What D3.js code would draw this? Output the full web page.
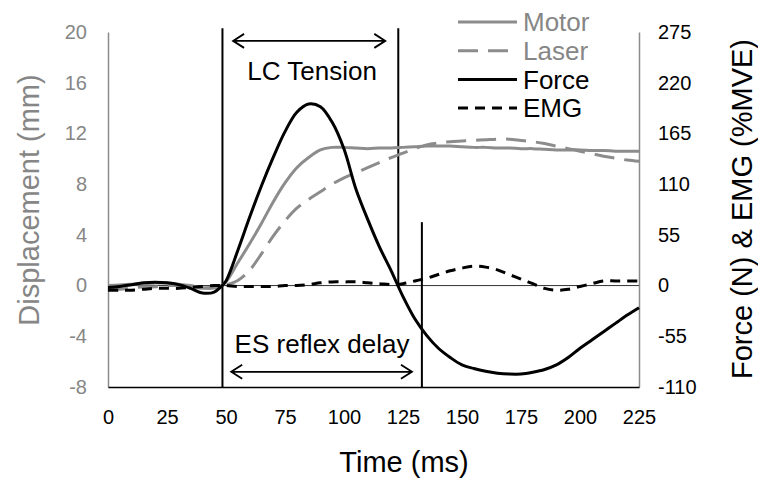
<!DOCTYPE html>
<html>
<head>
<meta charset="utf-8">
<script src="https://cdn.jsdelivr.net/npm/d3@7"></script>
<style>
    body { margin: 0; background: #fff; }
    svg text { font-family: "Liberation Sans", Arial, sans-serif; }
</style>
</head>
<body>
<div id="chart"></div>
<script>
// 时间 (ms)
var time = [0, 5, 10, 15, 20, 25, 30, 35, 40, 45, 48, 50, 55, 60, 65, 70, 75, 80, 85, 90, 95, 100,
    105, 110, 115, 120, 125, 130, 135, 140, 145, 150, 155, 160, 165, 170, 175, 180, 185, 190, 195,
    200, 205, 210, 215, 220, 225];
// 位移 (mm) —— 左轴
var motor = [0, 0.05, 0.1, 0.15, 0.2, 0.2, 0.1, 0, -0.2, -0.2, 0, 0.3, 1.8, 3.3, 4.9, 6.6, 8.1, 9.3, 10.1, 10.7, 10.9, 10.9,
    10.85, 10.8, 10.85, 10.85, 10.9, 10.95, 11.0, 11.0, 11.0, 10.95, 10.9, 10.9, 10.85, 10.85, 10.8, 10.8, 10.75, 10.7, 10.7,
    10.7, 10.65, 10.65, 10.6, 10.6, 10.6];
var laser = [-0.3, -0.3, -0.2, -0.1, -0.1, 0, 0, -0.1, -0.2, -0.1, 0, 0.05, 0.4, 1.2, 2.5, 3.9, 5.1, 6.1, 6.8, 7.4, 8.0, 8.5,
    8.9, 9.3, 9.7, 10.1, 10.45, 10.8, 11.1, 11.25, 11.35, 11.4, 11.45, 11.5, 11.55, 11.55, 11.45, 11.35, 11.2, 11.0, 10.8,
    10.6, 10.4, 10.2, 10.05, 9.9, 9.8];
// 力 (N) 与 EMG (%MVE) —— 右轴
var force = [-2, -1, 1, 3, 3.5, 3, 1, -3, -8, -7, -1, 5, 38, 74, 108, 139, 167, 188, 197, 194, 177, 148,
    105, 72, 42, 16, -12, -36, -54, -68, -78, -86, -90, -93, -95, -96, -96, -94, -91, -86, -78,
    -68, -59, -50, -41, -32, -24];
var emg = [-5, -5, -5, -4, -3, -3, -3, -2, -1, 0, 0, 0, -1, -1, -1, -1, 0, 0, 1, 3, 4, 4,
    4, 3, 2, 1, 2, 5, 8, 12, 16, 19, 21, 20, 17, 12, 7, 2, -3, -5, -4,
    -1, 2, 5, 5, 5, 5];

// 刻度
var timeTicks = [0, 25, 50, 75, 100, 125, 150, 175, 200, 225];
var leftTicks = [-8, -4, 0, 4, 8, 12, 16, 20];
var rightTicks = [-110, -55, 0, 55, 110, 165, 220, 275];

// 标注 (ms)
var tensionStart = 48.5, tensionEnd = 123, reflexEnd = 133;

var W = 758, H = 485;
var padding = {left: 108, right: 119, top: 32, bottom: 98};
var gray = '#8c8c8c', grayText = '#868686';

var svg = d3.select('#chart').append('svg')
    .attr('width', W)
    .attr('height', H);

var x = d3.scaleLinear().domain([0, 225]).range([padding.left, W - padding.right]);
var yL = d3.scaleLinear().domain([-8, 20]).range([H - padding.bottom, padding.top]);
var yR = d3.scaleLinear().domain([-110, 275]).range([H - padding.bottom, padding.top]);

// 普通连字符负号
var fmt = function (d) { return String(d); };

//坐标轴
var gL = svg.append('g')
    .attr('transform', 'translate(' + padding.left + ',0)')
    .call(d3.axisLeft(yL).tickValues(leftTicks).tickFormat(fmt).tickSize(0).tickPadding(21));
gL.select('.domain').attr('stroke', gray).attr('stroke-width', 1.5);
gL.selectAll('text').attr('fill', grayText).style('font-size', '20px');

var gR = svg.append('g')
    .attr('transform', 'translate(' + (W - padding.right) + ',0)')
    .call(d3.axisRight(yR).tickValues(rightTicks).tickFormat(fmt).tickSize(0).tickPadding(19));
gR.select('.domain').attr('stroke', gray).attr('stroke-width', 1.5);
gR.selectAll('text').attr('fill', '#000').style('font-size', '20px');

var gB = svg.append('g')
    .attr('transform', 'translate(0,' + (H - padding.bottom) + ')')
    .call(d3.axisBottom(x).tickValues(timeTicks).tickFormat(fmt).tickSize(0).tickPadding(23));
gB.select('.domain').attr('stroke', '#000').attr('stroke-width', 1.5);
gB.selectAll('text').attr('fill', '#000').style('font-size', '20px');

// 零线
svg.append('line')
    .attr('x1', x(0)).attr('x2', x(225))
    .attr('y1', yL(0)).attr('y2', yL(0))
    .attr('stroke', '#333').attr('stroke-width', 1);

// 轴标题
svg.append('text')
    .attr('transform', 'translate(39,' + 200 + ') rotate(-90)')
    .attr('text-anchor', 'middle')
    .attr('fill', grayText)
    .style('font-size', '29px')
    .text('Displacement (mm)');

svg.append('text')
    .attr('transform', 'translate(752,' + 209 + ') rotate(-90)')
    .attr('text-anchor', 'middle')
    .attr('fill', '#000')
    .style('font-size', '29px')
    .text('Force (N) & EMG (%MVE)');

svg.append('text')
    .attr('x', 404).attr('y', 472)
    .attr('text-anchor', 'middle')
    .attr('fill', '#000')
    .style('font-size', '29px')
    .text('Time (ms)');

// 标注竖线
function vline(t, v0, v1) {
    svg.append('line')
        .attr('x1', x(t)).attr('x2', x(t))
        .attr('y1', yL(v0)).attr('y2', yL(v1))
        .attr('stroke', '#000').attr('stroke-width', 2);
}
vline(tensionStart, 20.3, -8);
vline(tensionEnd, 20.3, -0.1);
vline(reflexEnd, 5.0, -8);

// 双向箭头
function arrow(t0, t1, v) {
    var x0 = x(t0), x1 = x(t1), yy = yL(v), hl = 11, hw = 7;
    svg.append('path')
        .attr('d', 'M' + x0 + ',' + yy + 'H' + x1 +
            'M' + (x0 + hl) + ',' + (yy - hw) + 'L' + x0 + ',' + yy + 'L' + (x0 + hl) + ',' + (yy + hw) +
            'M' + (x1 - hl) + ',' + (yy - hw) + 'L' + x1 + ',' + yy + 'L' + (x1 - hl) + ',' + (yy + hw))
        .attr('fill', 'none')
        .attr('stroke', '#000')
        .attr('stroke-width', 1.8);
}
arrow(53, 117.5, 19.3);
arrow(52.2, 128.8, -6.8);

svg.append('text')
    .attr('x', x(86.5)).attr('y', yL(16.2))
    .attr('text-anchor', 'middle')
    .style('font-size', '26px')
    .text('LC Tension');

svg.append('text')
    .attr('x', x(90.7)).attr('y', yL(-5.3))
    .attr('text-anchor', 'middle')
    .style('font-size', '26px')
    .text('ES reflex delay');

// 曲线
var series = [
    {name: 'Motor', values: motor, scale: yL, color: gray, dash: null, text: grayText},
    {name: 'Laser', values: laser, scale: yL, color: gray, dash: '20,10', text: grayText},
    {name: 'Force', values: force, scale: yR, color: '#000', dash: null, text: '#000'},
    {name: 'EMG', values: emg, scale: yR, color: '#000', dash: '10,7', text: '#000'}
];

series.forEach(function (s) {
    var line = d3.line()
        .x(function (d, i) { return x(time[i]); })
        .y(function (d) { return s.scale(d); })
        .curve(d3.curveCatmullRom);
    svg.append('path')
        .datum(s.values)
        .attr('d', line)
        .attr('fill', 'none')
        .attr('stroke', s.color)
        .attr('stroke-width', 3)
        .attr('stroke-dasharray', s.dash);
});

// 图例
var legend = svg.append('g').attr('class', 'legend');
series.forEach(function (s, i) {
    var yy = 22 + i * 28.7;
    legend.append('line')
        .attr('x1', 458).attr('x2', 517)
        .attr('y1', yy).attr('y2', yy)
        .attr('stroke', s.color).attr('stroke-width', 3)
        .attr('stroke-dasharray', s.dash);
    legend.append('text')
        .attr('x', 523).attr('y', yy)
        .attr('dy', '0.35em')
        .attr('fill', s.text)
        .style('font-size', '26px')
        .text(s.name);
});
</script>
</body>
</html>
